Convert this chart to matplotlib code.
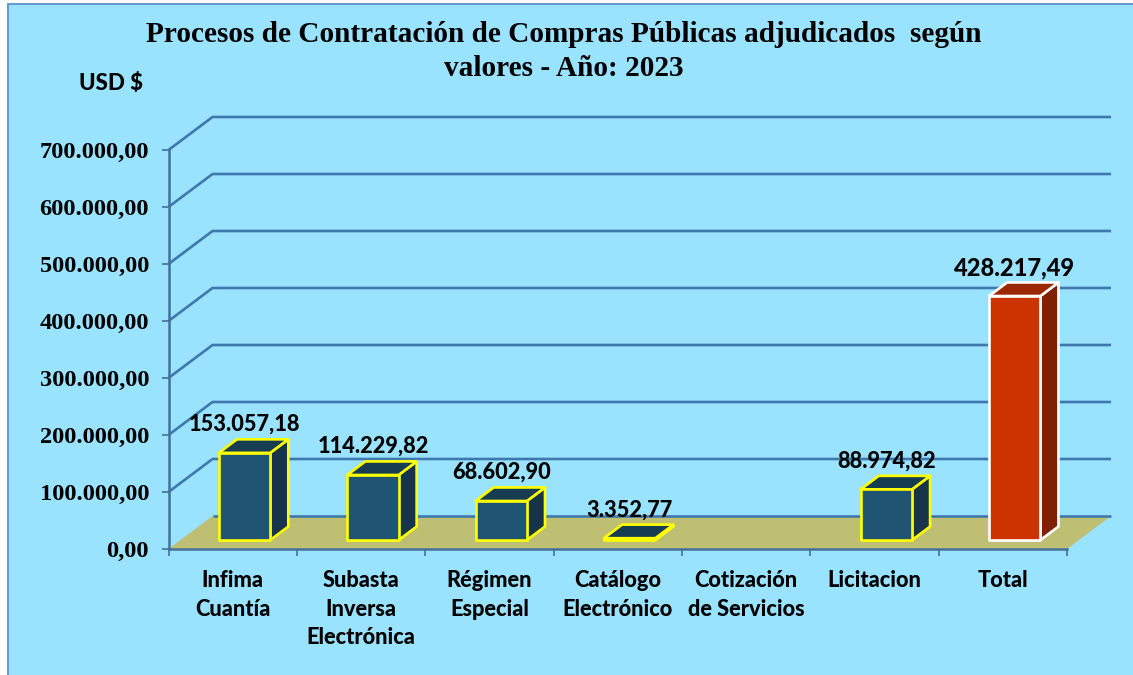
import matplotlib
matplotlib.use('Agg')
import matplotlib.pyplot as plt
from matplotlib.patches import Polygon, Rectangle

# Chart data
categories = ['Infima\nCuantía', 'Subasta\nInversa\nElectrónica', 'Régimen\nEspecial',
              'Catálogo\nElectrónico', 'Cotización\nde Servicios', 'Licitacion', 'Total']
values = [153057.18, 114229.82, 68602.90, 3352.77, 0, 88974.82, 428217.49]
y_ticks = [0, 100000, 200000, 300000, 400000, 500000, 600000, 700000]

BG = '#99E3FF'
GRID = '#3F78AC'
FLOOR = '#BFBF73'
AXIS = '#44709A'
SERIF = 'Liberation Serif'
SANS = 'Lato'
HEAVY = 'black'

W, H = 1133, 675
# oblique depth of the 3D box, in data units
DEPTH_X = 0.343
DEPTH_Y = 57900
BAR_W = 0.40


def es_number(v):
    return f'{v:,.2f}'.replace(',', 'X').replace('.', ',').replace('X', '.')


def shift(x, y, t):
    """Move a point t of the way into the chart depth"""
    return x + t * DEPTH_X, y + t * DEPTH_Y


def draw_bar(ax, i, value, front, top, side, edge, label_size=15.7):
    x0 = i + 0.5 - BAR_W / 2
    x1 = x0 + BAR_W
    t0, t1 = 0.27, 0.68
    a = shift(x0, 0, t0)
    b = shift(x1, 0, t0)
    c = shift(x1, value, t0)
    d = shift(x0, value, t0)
    e = shift(x1, 0, t1)
    f = shift(x1, value, t1)
    g = shift(x0, value, t1)
    for pts, col in [([b, e, f, c], side), ([d, c, f, g], top), ([a, b, c, d], front)]:
        ax.add_patch(Polygon(pts, closed=True, facecolor=col, edgecolor=edge, linewidth=1.9,
                             joinstyle='round', clip_on=False, zorder=5))
    if value > 0:
        cx = (d[0] + f[0]) / 2 - DEPTH_X * 0.2
        ax.text(cx, f[1] + 26000, es_number(value), ha='center', va='center', family=SANS,
                fontweight=HEAVY, fontsize=label_size, color='black', zorder=6)


fig = plt.figure(figsize=(W / 100, H / 100), dpi=100, facecolor='white')
fig.patches.append(Rectangle((8 / W, -0.1), 1.1, 1.1 - 4 / H, transform=fig.transFigure,
                             facecolor=BG, edgecolor='#6699CC', linewidth=1.4, zorder=-1))

ax = fig.add_axes([168.5 / W, 1 - 549 / H, (1067 - 168.5) / W, (549 - 150) / H])
ax.patch.set_visible(False)
n = len(categories)
ax.set_xlim(0, n)
ax.set_ylim(0, 700000)

# Floor and back wall
ax.add_patch(Polygon([(0, 0), (n, 0), shift(n, 0, 1), shift(0, 0, 1)], closed=True,
                     facecolor=FLOOR, edgecolor='none', clip_on=False, zorder=1))
for v in y_ticks:
    xb, yb = shift(0, v, 1)
    xe, _ = shift(n, v, 1)
    pts_x = [xb, xe] if v == 0 else [0, xb, xe]
    pts_y = [yb, yb] if v == 0 else [v, yb, yb]
    ax.plot(pts_x, pts_y, color=GRID, linewidth=1.9, clip_on=False, zorder=2,
            solid_joinstyle='miter', solid_capstyle='butt')

# Bars
for i, v in enumerate(values):
    if categories[i] == 'Total':
        draw_bar(ax, i, v, '#CC3300', '#9C2800', '#7F2000', 'white', label_size=17)
    elif v > 0:
        draw_bar(ax, i, v, '#1F5573', '#173D52', '#16354A', '#FFFF00')

# Axes, ticks and labels
for s in ['top', 'right']:
    ax.spines[s].set_visible(False)
for s in ['left', 'bottom']:
    ax.spines[s].set_color(AXIS)
    ax.spines[s].set_linewidth(1.8)
    ax.spines[s].set_zorder(3)
ax.set_yticks(y_ticks)
ax.set_yticklabels([es_number(v) for v in y_ticks], family=SERIF, fontweight='bold', fontsize=17.6)
ax.tick_params(axis='y', length=5, width=1.2, color=AXIS, pad=9)
ax.set_xticks(range(n + 1))
ax.set_xticklabels([])
ax.tick_params(axis='x', which='major', length=5, width=1.2, color=AXIS)
ax.set_xticks([i + 0.5 for i in range(n)], minor=True)
ax.set_xticklabels(categories, minor=True, family=SANS, fontweight=HEAVY, fontsize=15.7,
                   linespacing=1.46)
ax.tick_params(axis='x', which='minor', length=0, pad=15)

fig.text(563.5 / W, 1 - 34 / H, 'Procesos de Contratación de Compras Públicas adjudicados  según',
         ha='center', va='center', family=SERIF, fontweight='bold', fontsize=21.1)
fig.text(563.5 / W, 1 - 68 / H, 'valores - Año: 2023', ha='center', va='center',
         family=SERIF, fontweight='bold', fontsize=21.1)
fig.text(111 / W, 1 - 83 / H, 'USD $', ha='center', va='center', family=SANS,
         fontweight=HEAVY, fontsize=16)

fig.savefig('out.png', dpi=100, facecolor=fig.get_facecolor())
